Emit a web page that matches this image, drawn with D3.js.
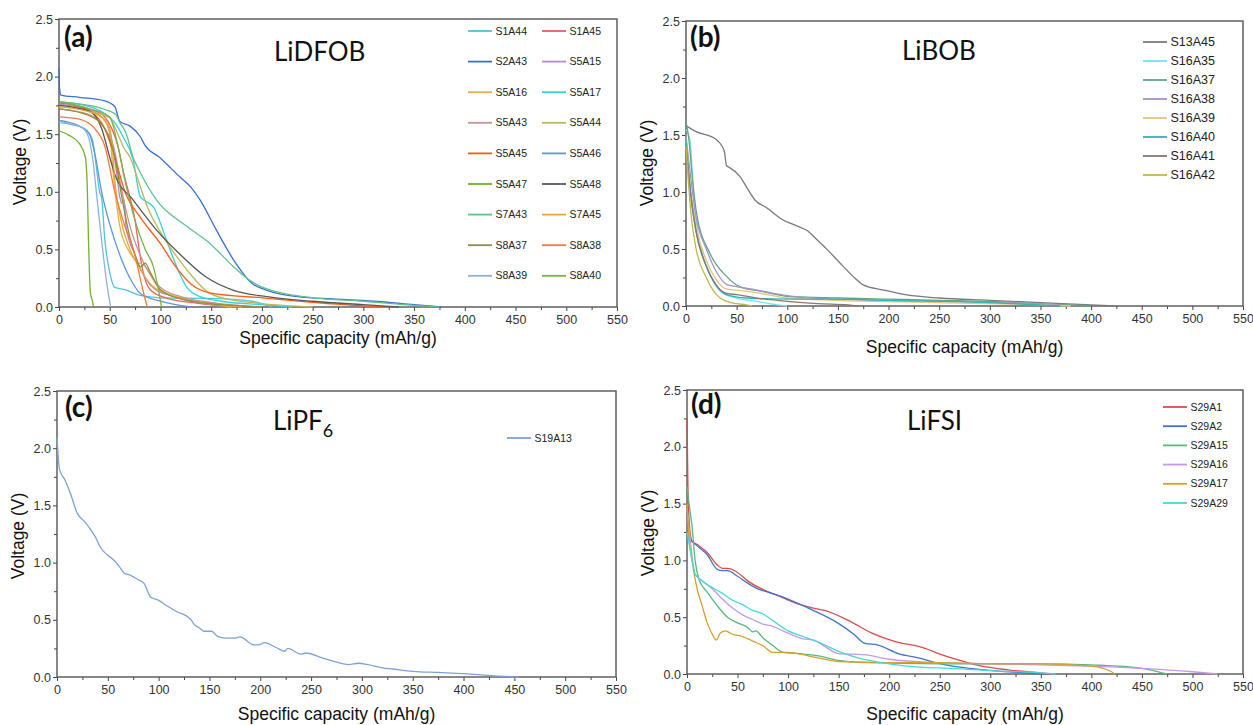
<!DOCTYPE html>
<html>
<head>
<meta charset="utf-8">
<script src="https://cdn.jsdelivr.net/npm/d3@7"></script>
<style>
body { margin: 0; background: #fff; }
.tick text { font-family: "Liberation Sans", Arial, sans-serif; }
</style>
</head>
<body>
<div id="chart"></div>
<script>

// shared axis ticks
var xTicks = [0, 50, 100, 150, 200, 250, 300, 350, 400, 450, 500, 550];
var xMinor = [25, 75, 125, 175, 225, 275, 325, 375, 425, 475, 525];
var yTicks = [0, 0.5, 1.0, 1.5, 2.0, 2.5];
var yMinor = [0.25, 0.75, 1.25, 1.75, 2.25];

// (a) LiDFOB
var dfobNames = ["S1A44", "S1A45", "S2A43", "S5A15", "S5A16", "S5A17", "S5A43", "S5A44", "S5A45",
                 "S5A46", "S5A47", "S5A48", "S7A43", "S7A45", "S8A37", "S8A38", "S8A39", "S8A40"];
var dfobCurves = [
    [[0,1.62],[10,1.59],[25,1.55],[33,1.45],[37,1.2],[40,1.0],[42,0.95],[45,0.6],[50,0.3],[55,0.17],[65,0.15],[80,0.1],[100,0.08],[150,0.075],[190,0.05],[210,0]],
    [[0,1.77],[30,1.72],[45,1.65],[52,1.55],[58,1.4],[64,1.15],[70,0.95],[75,0.75],[79,0.5],[83,0.3],[90,0.15],[105,0.08],[130,0.04],[160,0.01],[180,0]],
    [[0,2.07],[0.5,1.9],[2,1.84],[20,1.82],[45,1.79],[55,1.74],[60,1.61],[70,1.57],[80,1.48],[85,1.4],[99,1.3],[119,1.13],[130,1.04],[139,0.93],[155,0.67],[172,0.41],[191,0.2],[205,0.145],[237,0.087],[270,0.07],[310,0.05],[350,0.02],[377,0]],
    [[0,1.76],[30,1.71],[45,1.62],[52,1.45],[57,1.15],[60,0.95],[62,0.9],[64,0.93],[66,0.7],[75,0.45],[85,0.25],[95,0.15],[110,0.1],[130,0.05],[150,0.02],[170,0]],
    [[0,1.75],[30,1.7],[45,1.62],[50,1.5],[53,1.2],[56,0.95],[60,0.7],[68,0.5],[76,0.4],[85,0.35],[92,0.25],[100,0.15],[120,0.08],[150,0.03],[180,0]],
    [[0,1.78],[30,1.74],[45,1.68],[55,1.6],[63,1.48],[73,1.28],[80,0.96],[85,0.92],[93,0.87],[106,0.58],[116,0.35],[126,0.17],[139,0.09],[160,0.05],[200,0.02],[230,0]],
    [[0,1.72],[30,1.67],[45,1.55],[55,1.35],[60,1.1],[70,0.7],[80,0.45],[90,0.28],[100,0.17],[120,0.09],[150,0.04],[200,0]],
    [[0,1.74],[30,1.7],[50,1.64],[58,1.5],[64,1.38],[70,1.3],[78,1.1],[88,0.85],[100,0.65],[115,0.45],[130,0.28],[145,0.14],[165,0.07],[200,0.03],[250,0]],
    [[0,1.78],[30,1.7],[45,1.55],[55,1.3],[65,1.0],[80,0.78],[100,0.55],[115,0.35],[130,0.2],[150,0.12],[200,0.08],[250,0.04],[300,0.01],[330,0]],
    [[0,1.62],[20,1.57],[30,1.5],[36,1.3],[42,1.0],[50,0.72],[60,0.45],[70,0.25],[80,0.12],[100,0.05],[130,0]],
    [[0,1.53],[10,1.49],[20,1.42],[26,1.3],[28,1.0],[29,0.6],[30,0.3],[31,0.12],[33,0.05],[34,0]],
    [[0,1.75],[30,1.7],[42,1.55],[50,1.3],[55,1.15],[73,0.93],[96,0.67],[119,0.46],[145,0.26],[172,0.145],[205,0.09],[250,0.05],[300,0.02],[335,0]],
    [[0,1.78],[40,1.73],[50,1.7],[56,1.67],[60,1.6],[66,1.51],[73,1.3],[80,1.17],[96,0.93],[126,0.7],[149,0.55],[172,0.35],[190,0.22],[201,0.17],[220,0.12],[250,0.08],[300,0.05],[340,0.02],[375,0]],
    [[0,1.74],[35,1.68],[48,1.6],[52,1.45],[55,1.1],[60,0.8],[70,0.5],[80,0.33],[90,0.2],[110,0.1],[140,0.04],[170,0]],
    [[0,1.72],[30,1.66],[45,1.55],[55,1.3],[62,0.95],[70,0.6],[75,0.45],[80,0.35],[85,0.38],[90,0.3],[100,0.15],[120,0.07],[160,0.02],[200,0]],
    [[0,1.65],[20,1.63],[35,1.55],[45,1.4],[55,1.0],[65,0.7],[75,0.45],[80,0.25],[84,0.1],[87,0]],
    [[0,1.6],[20,1.57],[28,1.5],[33,1.3],[38,0.9],[43,0.5],[48,0.15],[51,0]],
    [[0,1.78],[30,1.72],[50,1.65],[58,1.4],[65,1.1],[75,0.75],[85,0.5],[93,0.35],[98,0.15],[101,0]]
];

// (b) LiBOB
var bobNames = ["S13A45", "S16A35", "S16A37", "S16A38", "S16A39", "S16A40", "S16A41", "S16A42"];
var bobCurves = [
    [[0,1.58],[10,1.53],[30,1.46],[35,1.41],[38,1.35],[40,1.23],[42,1.22],[53,1.14],[60,1.04],[68,0.93],[80,0.86],[93,0.77],[110,0.7],[120,0.66],[126,0.61],[140,0.49],[155,0.35],[165,0.26],[175,0.185],[195,0.14],[218,0.097],[250,0.07],[300,0.05],[350,0.03],[400,0.01],[423,0]],
    [[0,1.55],[4,1.45],[8,0.9],[15,0.5],[25,0.25],[35,0.12],[50,0.07],[70,0.04],[90,0.01],[100,0]],
    [[0,1.62],[3,1.45],[6,1.15],[10.5,0.81],[23.7,0.46],[40,0.26],[53,0.17],[76,0.126],[103,0.082],[150,0.07],[200,0.06],[250,0.05],[300,0.04],[350,0.02],[400,0]],
    [[0,1.5],[5,1.1],[10,0.78],[20,0.5],[30,0.3],[40,0.19],[50,0.17],[70,0.14],[100,0.09],[150,0.06],[250,0.04],[350,0.02],[380,0]],
    [[0,1.45],[5,1.0],[10,0.7],[20,0.4],[30,0.23],[40,0.15],[60,0.13],[80,0.1],[100,0.07],[150,0.05],[250,0.03],[350,0.01],[380,0]],
    [[0,1.45],[5,0.95],[10,0.65],[20,0.35],[30,0.18],[40,0.1],[60,0.07],[100,0.06],[150,0.06],[200,0.05],[300,0.03],[350,0.01],[370,0]],
    [[0,1.4],[5,0.95],[10,0.65],[20,0.35],[30,0.18],[40,0.11],[50,0.1],[70,0.07],[100,0.04],[130,0.02],[160,0.01],[170,0]],
    [[0,1.4],[5,0.8],[10,0.5],[20,0.25],[30,0.1],[40,0.04],[50,0.02],[60,0.01],[65,0]]
];

// (c) LiPF6
var pf6Names = ["S19A13"];
var pf6Curves = [
    [[0,2.1],[1,1.95],[2.6,1.81],[8,1.72],[13,1.61],[20,1.43],[27,1.36],[33,1.29],[38,1.22],[43,1.13],[49,1.07],[55,1.03],[61,0.97],[66,0.91],[72,0.89],[80,0.85],[85.5,0.82],[92,0.7],[100,0.67],[108.5,0.62],[118,0.57],[128,0.53],[132,0.5],[135,0.46],[140,0.43],[145,0.4],[152,0.4],[158,0.355],[166,0.34],[174,0.34],[180,0.35],[194,0.28],[199,0.28],[204,0.3],[215,0.26],[224,0.225],[227,0.25],[240,0.2],[245,0.21],[260,0.17],[275,0.13],[287,0.108],[297,0.12],[305,0.11],[320,0.08],[330,0.07],[350,0.05],[375,0.04],[400,0.03],[430,0.01],[455,0]]
];

// (d) LiFSI
var fsiNames = ["S29A1", "S29A2", "S29A15", "S29A16", "S29A17", "S29A29"];
var fsiCurves = [
    [[0,2.25],[1,1.6],[3,1.25],[5,1.17],[10,1.14],[20,1.07],[30,0.96],[35,0.93],[40,0.93],[49,0.9],[60,0.82],[76,0.74],[90,0.69],[109,0.62],[125,0.58],[136,0.56],[159,0.475],[183,0.36],[206,0.285],[230,0.24],[253,0.167],[270,0.12],[286,0.08],[319,0.035],[350,0.01],[362,0]],
    [[0,1.25],[2,1.2],[10,1.13],[20,1.05],[30,0.92],[35,0.91],[40,0.91],[50,0.86],[60,0.8],[70,0.75],[80,0.72],[100,0.66],[120,0.58],[149,0.45],[165,0.35],[176,0.27],[189,0.255],[209,0.18],[230,0.14],[249,0.094],[270,0.06],[296,0.035],[342,0.006],[355,0]],
    [[0,1.65],[2,1.5],[5,1.3],[8,1.0],[12,0.83],[20,0.72],[30,0.6],[40,0.5],[50,0.45],[60,0.41],[65,0.37],[68,0.38],[75,0.32],[85,0.25],[95,0.19],[110,0.18],[130,0.16],[150,0.12],[180,0.1],[250,0.09],[300,0.09],[350,0.09],[400,0.08],[450,0.05],[470,0.01],[475,0]],
    [[0,1.45],[3,1.2],[8,0.88],[15,0.82],[25,0.75],[35,0.66],[45,0.58],[55,0.52],[65,0.48],[75,0.44],[85,0.42],[95,0.38],[105,0.34],[115,0.31],[125,0.3],[135,0.25],[150,0.18],[175,0.17],[200,0.13],[250,0.1],[300,0.09],[350,0.08],[400,0.07],[450,0.05],[500,0.02],[525,0]],
    [[0,1.5],[2,1.2],[5,1.0],[10,0.75],[15,0.6],[20,0.45],[25,0.35],[29,0.3],[33,0.36],[38,0.38],[45,0.35],[55,0.33],[65,0.29],[75,0.25],[85,0.19],[100,0.19],[120,0.16],[150,0.11],[200,0.1],[250,0.1],[300,0.09],[350,0.09],[400,0.07],[420,0.02],[423,0]],
    [[0,1.25],[3,1.1],[8,0.88],[15,0.82],[25,0.76],[35,0.71],[45,0.65],[55,0.61],[65,0.56],[75,0.53],[85,0.47],[100,0.38],[115,0.33],[130,0.28],[150,0.2],[170,0.14],[200,0.09],[230,0.06],[260,0.05],[300,0.03],[350,0.01],[365,0]]
];

var dfobColors = ["#4ec5d9", "#e5605e", "#3a6fd4", "#b48bd2", "#e9b04a", "#2fd3e3", "#c99393", "#bdb85a", "#ff5b14",
                  "#5a98dc", "#6fb22c", "#5b5555", "#5ec28f", "#e6a834", "#8e8e3c", "#f27a3c", "#8fb1d9", "#7bb24a"];
var bobColors = ["#7a7a7a", "#6fe5f5", "#5fa584", "#a692c9", "#e3c67a", "#2fb4b4", "#8c7474", "#bdb84e"];
var pf6Colors = ["#7da3d6"];
var fsiColors = ["#e04a4a", "#3f72d2", "#55ba7c", "#c39be9", "#d3a22c", "#45d9d9"];


VoltagePanel = function(svg, opts){

    this.svg = svg;
    this.opts = opts;

    this._build();
    this._draw_axes();
    this._draw_lines();
    this._draw_labels();
    this._draw_legend();
};

VoltagePanel.prototype._build = function(){

    var o = this.opts;

    this.x = d3.scaleLinear().domain([0, 550]).range([o.left, o.right]);
    this.y = d3.scaleLinear().domain([0, 2.5]).range([o.bottom, o.top]);

    this._g = this.svg.append("g").attr("class", "panel");
};

VoltagePanel.prototype._draw_axes = function(){

    var o = this.opts;

    var xMinorAxis = d3.axisBottom(this.x).tickValues(xMinor).tickSize(3).tickFormat("");
    var yMinorAxis = d3.axisLeft(this.y).tickValues(yMinor).tickSize(3).tickFormat("");

    this._g.append("g").attr("transform", "translate(0," + o.bottom + ")").call(xMinorAxis);
    this._g.append("g").attr("transform", "translate(" + o.left + ",0)").call(yMinorAxis);

    var xAxis = d3.axisBottom(this.x).tickValues(xTicks).tickSize(4).tickPadding(4).tickFormat(d3.format("d"));
    var yAxis = d3.axisLeft(this.y).tickValues(yTicks).tickSize(4).tickPadding(2).tickFormat(d3.format(".1f"));

    this._g.append("g").attr("transform", "translate(0," + o.bottom + ")").call(xAxis);
    this._g.append("g").attr("transform", "translate(" + o.left + ",0)").call(yAxis);

    this._g.selectAll(".domain").remove();
    this._g.selectAll(".tick line").attr("stroke", "#444").attr("stroke-width", 1);
    this._g.selectAll(".tick text")
        .attr("fill", "#333")
        .style("font-size", "12.5px");

    this._g.append("rect")
        .attr("x", o.left)
        .attr("y", o.top)
        .attr("width", o.right - o.left)
        .attr("height", o.bottom - o.top)
        .attr("fill", "none")
        .attr("stroke", "#555")
        .attr("stroke-width", 1.4);
};

VoltagePanel.prototype._draw_lines = function(){

    var self = this;
    var o = this.opts;

    var line = d3.line()
        .x(function(d){ return self.x(d[0]); })
        .y(function(d){ return self.y(d[1]); })
        .curve(d3.curveMonotoneX);

    this._g.append("g")
        .selectAll("path")
        .data(o.curves)
        .enter()
        .append("path")
        .attr("d", line)
        .attr("fill", "none")
        .attr("stroke", function(d, i){ return o.colors[i]; })
        .attr("stroke-width", 1.3)
        .attr("stroke-linejoin", "round");
};

VoltagePanel.prototype._draw_labels = function(){

    var o = this.opts;

    this._g.append("text")
        .attr("x", o.tag[0])
        .attr("y", o.tag[1])
        .attr("font-family", "Lato, 'Open Sans', sans-serif")
        .attr("font-weight", "bold")
        .attr("font-size", 28)
        .attr("fill", "#111")
        .text(o.tagText);

    var title = this._g.append("text")
        .attr("x", o.title[0])
        .attr("y", o.title[1])
        .attr("font-family", "Lato, 'Open Sans', sans-serif")
        .attr("font-size", 26)
        .attr("fill", "#111");

    title.append("tspan").text(o.titleText);
    if(o.titleSub){
        title.append("tspan")
            .attr("dy", 7)
            .attr("font-size", 18)
            .text(o.titleSub);
    }

    this._g.append("text")
        .attr("x", (o.left + o.right) / 2)
        .attr("y", o.xLabelY)
        .attr("text-anchor", "middle")
        .attr("font-family", "'Liberation Sans', Arial, sans-serif")
        .attr("font-size", 17.5)
        .attr("fill", "#111")
        .text("Specific capacity (mAh/g)");

    this._g.append("text")
        .attr("transform", "translate(" + o.yLabel[0] + "," + o.yLabel[1] + ") rotate(-90)")
        .attr("text-anchor", "middle")
        .attr("font-family", "'Liberation Sans', Arial, sans-serif")
        .attr("font-size", 17.5)
        .attr("fill", "#111")
        .text("Voltage (V)");
};

VoltagePanel.prototype._draw_legend = function(){

    var o = this.opts;
    var lg = o.legend;

    var item = this._g.append("g")
        .selectAll("g")
        .data(o.names)
        .enter()
        .append("g")
        .attr("transform", function(d, i){
            var col = i % lg.cols;
            var row = Math.floor(i / lg.cols);
            return "translate(" + (lg.x + col * lg.colGap) + "," + (lg.y + row * lg.rowGap) + ")";
        });

    item.append("line")
        .attr("x1", 0)
        .attr("x2", 24)
        .attr("stroke", function(d, i){ return o.colors[i]; })
        .attr("stroke-width", 1.8);

    item.append("text")
        .attr("x", 27.5)
        .attr("dy", "0.35em")
        .attr("font-family", "'Liberation Sans', Arial, sans-serif")
        .attr("font-size", lg.fontSize)
        .attr("fill", "#222")
        .text(function(d){ return d; });
};


var svg = d3.select("#chart")
    .append("svg")
    .attr("width", 1253)
    .attr("height", 725)
    .style("display", "block");

new VoltagePanel(svg, {
    left: 59, right: 617, top: 19, bottom: 307,
    names: dfobNames, curves: dfobCurves, colors: dfobColors,
    tagText: "(a)", tag: [64, 47],
    titleText: "LiDFOB", title: [274, 61],
    xLabelY: 344, yLabel: [26, 162],
    legend: { x: 468, y: 31, cols: 2, colGap: 74, rowGap: 30.6, fontSize: 10.5 }
});

new VoltagePanel(svg, {
    left: 686, right: 1243, top: 21, bottom: 306,
    names: bobNames, curves: bobCurves, colors: bobColors,
    tagText: "(b)", tag: [690, 47],
    titleText: "LiBOB", title: [902, 60],
    xLabelY: 353, yLabel: [653, 163],
    legend: { x: 1143, y: 42, cols: 1, colGap: 0, rowGap: 19, fontSize: 12.5 }
});

new VoltagePanel(svg, {
    left: 57, right: 616, top: 391, bottom: 677,
    names: pf6Names, curves: pf6Curves, colors: pf6Colors,
    tagText: "(c)", tag: [65, 417],
    titleText: "LiPF", titleSub: "6", title: [273, 430],
    xLabelY: 720, yLabel: [24, 536],
    legend: { x: 507, y: 438, cols: 1, colGap: 0, rowGap: 19, fontSize: 10.5 }
});

new VoltagePanel(svg, {
    left: 687, right: 1243, top: 390, bottom: 674,
    names: fsiNames, curves: fsiCurves, colors: fsiColors,
    tagText: "(d)", tag: [691, 414],
    titleText: "LiFSI", title: [907, 430],
    xLabelY: 720, yLabel: [654, 533],
    legend: { x: 1163, y: 407, cols: 1, colGap: 0, rowGap: 19.2, fontSize: 10.5 }
});

</script>
</body>
</html>
